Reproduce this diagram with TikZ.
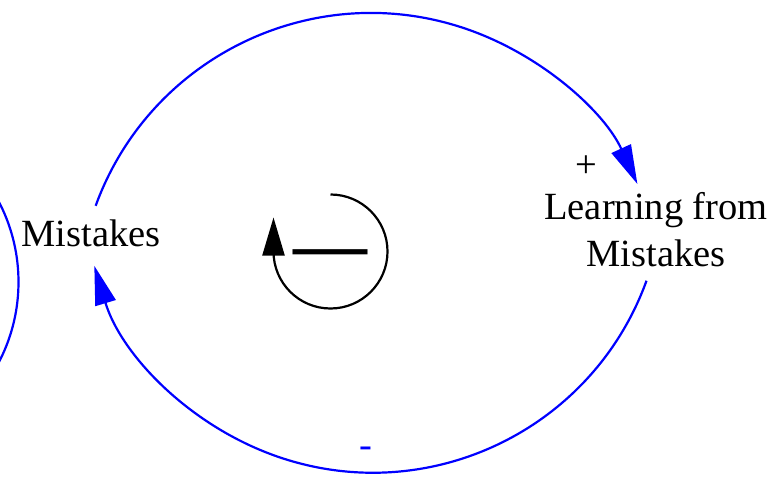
\documentclass[tikz,border=0pt]{standalone}
\usepackage{fontspec}
\setmainfont{Liberation Serif}
\usetikzlibrary{arrows.meta,calc}
\begin{document}
\begin{tikzpicture}[x=1pt,y=-1pt,
  lbl/.style={inner sep=0pt, font=\fontsize{38.5}{47}\selectfont},
  link/.style={draw=blue, line width=2.2pt},
  bluetip/.style={-{Triangle[length=39pt,width=21pt]}, blue},
  loopline/.style={draw=black, line width=2.2pt},
]
\useasboundingbox (0,0) rectangle (775,478);
\clip (0,0) rectangle (775,478);
\node[lbl, anchor=base] (m) at (91,246) {Mistakes};
\node[lbl, align=center] (l) at (656,230) {Learning from\\Mistakes};
\node[lbl] (p) at (586.5,167) {+};
\node[lbl, text=blue] (n) at (366,452) {-};
% circle centres of the two links
\coordinate (ct) at (371,306);
\coordinate (cb) at (371,181);
\coordinate (a1) at ($(ct)+(200:293)$);
\coordinate (b1) at ($(cb)+(19.9:293)$);
% Mistakes -> Learning from Mistakes
\draw[link, bluetip] (a1) arc[start angle=200, end angle=335.4, radius=293];
% Learning from Mistakes -> Mistakes
\draw[link, bluetip] (b1) arc[start angle=19.9, end angle=163.2, radius=291];
% partial link at left edge
\coordinate (cl) at (-155,282);
\coordinate (c1) at ($(cl)+(-40:173.5)$);
\draw[link] (c1) arc[start angle=-40, end angle=40, radius=173.5];
% loop symbol
\coordinate (ls) at (330.5,194.5);
\draw[loopline, -{Triangle[length=38pt,width=22pt]}] (ls) arc[start angle=-90, end angle=180, radius=57] -- ++(0,-34);
\node[inner sep=0pt, anchor=base, font=\fontsize{74}{74}\selectfont\bfseries] (d) at (330,269.6) {—};
\end{tikzpicture}
\end{document}
